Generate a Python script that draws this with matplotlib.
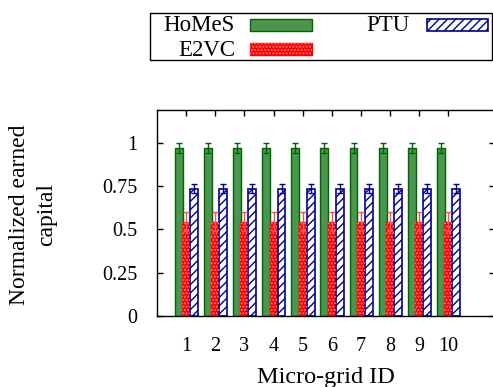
import matplotlib
matplotlib.use("Agg")
import matplotlib.pyplot as plt
from matplotlib.patches import Rectangle
import numpy as np

plt.rcParams['font.family'] = ['Liberation Serif', 'DejaVu Serif']
plt.rcParams['hatch.linewidth'] = 1.0

grids = [1, 2, 3, 4, 5, 6, 7, 8, 9, 10]
homes = [0.97] * 10
homes_err = [0.03] * 10
e2vc = [0.545] * 10
e2vc_err = [0.055] * 10
ptu = [0.735] * 10
ptu_err = [0.025] * 10
series_names = ["HoMeS", "E2VC", "PTU"]

W, H = 493, 387
fig = plt.figure(figsize=(W / 100, H / 100), dpi=100)
ax = fig.add_axes([157 / W, 1 - 316 / H, (495 - 157) / W, (316 - 110) / H])

x = np.array(grids, dtype=float)
bw = 0.27
green_face = '#4b9550'
green_edge = '#006400'
red_face = '#ff0000'
red_hatch = '#ff7a7a'
blue_edge = '#000090'

ax.bar(x - 0.255, homes, bw, color=green_face, edgecolor=green_edge, linewidth=1.0, zorder=2)
ax.errorbar(x - 0.255, homes, yerr=homes_err, fmt='none', ecolor=green_edge, elinewidth=1.0,
            capsize=2.5, capthick=1.0, zorder=3)

ax.bar(x, e2vc, bw, color=red_face, edgecolor=red_face, linewidth=1.0, zorder=2)
ax.bar(x, e2vc, bw, facecolor='none', edgecolor=red_hatch, hatch='.....', linewidth=0, zorder=2.1)
ax.errorbar(x, e2vc, yerr=e2vc_err, fmt='none', ecolor='#ff5050', elinewidth=1.0,
            capsize=2.5, capthick=1.0, zorder=3)

ax.bar(x + 0.275, ptu, bw, facecolor='white', edgecolor=blue_edge, hatch='////', linewidth=1.2, zorder=2)
ax.errorbar(x + 0.275, ptu, yerr=ptu_err, fmt='none', ecolor=blue_edge, elinewidth=1.0,
            capsize=2.5, capthick=1.0, zorder=3)

ax.set_xlim(0, 11.6)
ax.set_ylim(0, 1.19)
ax.set_xticks(grids)
ax.set_xticklabels([str(g) for g in grids])
ax.set_yticks([0, 0.25, 0.5, 0.75, 1])
ax.set_yticklabels(['0', '0.25', '0.5', '0.75', '1'])
ax.tick_params(direction='in', top=True, right=True, length=4, width=1, labelsize=14.5)
ax.tick_params(axis='y', pad=14)
ax.tick_params(axis='x', pad=15)
for s in ax.spines.values():
    s.set_linewidth(1.0)

ax.set_xlabel('Micro-grid ID', fontsize=17.5, labelpad=8)
fig.text(20 / W, 1 - 215 / H, 'Normalized earned', rotation=90, ha='center', va='center', fontsize=17)
fig.text(47 / W, 1 - 215 / H, 'capital', rotation=90, ha='center', va='center', fontsize=17)

# legend box (gnuplot style)
leg_ax = fig.add_axes([0, 0, 1, 1], facecolor='none')
leg_ax.set_xlim(0, W)
leg_ax.set_ylim(H, 0)
leg_ax.axis('off')
leg_ax.add_patch(Rectangle((150, 13), 342, 47, facecolor='white', edgecolor='black', linewidth=1.0))
# HoMeS
leg_ax.text(235, 31, series_names[0], ha='right', va='baseline', fontsize=16.5)
leg_ax.add_patch(Rectangle((250, 18.5), 62, 12, facecolor=green_face, edgecolor=green_edge, linewidth=1.0))
# E2VC
leg_ax.text(235, 56, series_names[1], ha='right', va='baseline', fontsize=16.5)
leg_ax.add_patch(Rectangle((250, 42.5), 62, 12, facecolor=red_face, edgecolor=red_face, linewidth=1.0))
leg_ax.add_patch(Rectangle((250, 42.5), 62, 12, facecolor='none', edgecolor=red_hatch, hatch='.....', linewidth=0))
# PTU
leg_ax.text(410, 31, series_names[2], ha='right', va='baseline', fontsize=16.5)
leg_ax.add_patch(Rectangle((427, 18.5), 61, 12, facecolor='white', edgecolor=blue_edge, hatch='////', linewidth=1.2))

fig.savefig('out.png', dpi=100)
